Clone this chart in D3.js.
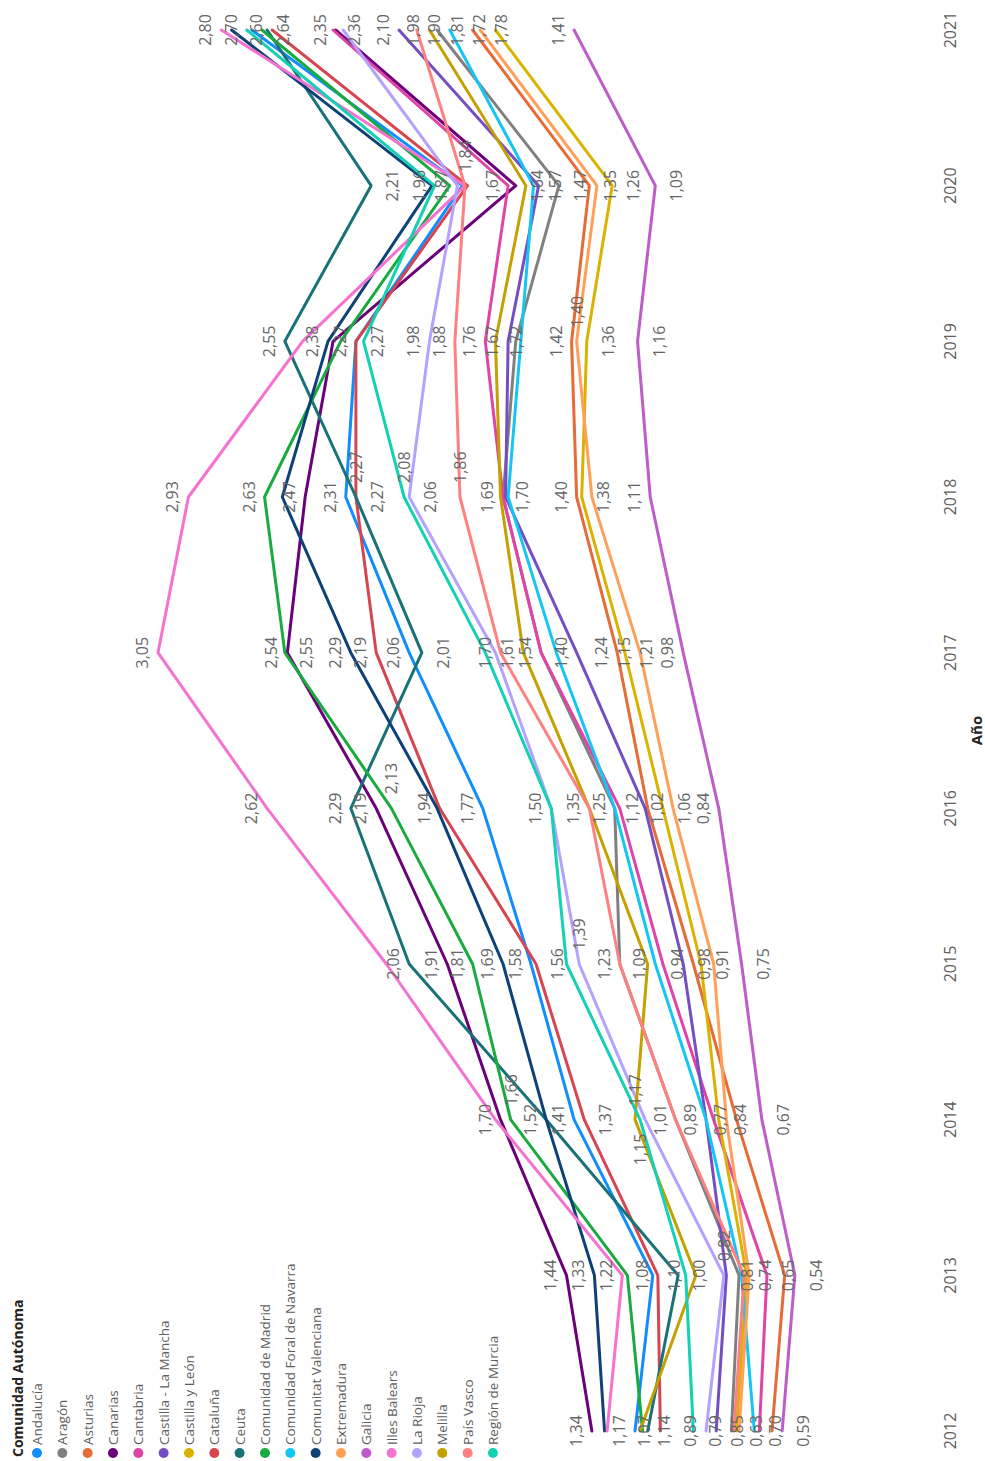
<!DOCTYPE html>
<html>
<head>
<meta charset="utf-8">
<script src="https://cdn.jsdelivr.net/npm/d3@7"></script>
<style>
  html, body { margin: 0; padding: 0; background: #ffffff; }
  svg { display: block; font-family: "Segoe UI", "Open Sans", "Noto Sans", sans-serif; }
</style>
</head>
<body>
<svg id="chart" width="985" height="1461"></svg>
<script>
// ---- data -------------------------------------------------------------
const years = [2012, 2013, 2014, 2015, 2016, 2017, 2018, 2019, 2020, 2021];

const regions = [
  "Andalucía", "Aragón", "Asturias", "Canarias", "Cantabria",
  "Castilla - La Mancha", "Castilla y León", "Cataluña", "Ceuta",
  "Comunidad de Madrid", "Comunidad Foral de Navarra", "Comunitat Valenciana",
  "Extremadura", "Galicia", "Illes Balears", "La Rioja", "Melilla",
  "País Vasco", "Región de Murcia"
];

const regionColors = [
  "#118DFF", "#808080", "#E66C37", "#6B007B", "#E044A7",
  "#744EC2", "#D9B300", "#D64550", "#197278",
  "#1AAB40", "#15C6F4", "#0E4178",
  "#FFA058", "#BE5DC9", "#F472D0", "#B5A1FF", "#C4A000",
  "#FF8080", "#14D0B4"
];

// one value per year, 2012 … 2021
const andalucia    = [1.17, 1.10, 1.41, 1.58, 1.77, 2.06, 2.31, 2.27, 1.85, 2.68];
const aragon       = [0.79, 0.76, 1.01, 1.23, 1.25, 1.54, 1.69, 1.64, 1.47, 1.95];
const asturias     = [0.63, 0.58, 0.77, 0.94, 1.12, 1.24, 1.40, 1.42, 1.35, 1.81];
const canarias     = [1.34, 1.44, 1.70, 1.91, 2.19, 2.54, 2.47, 2.36, 1.64, 2.35];
const cantabria    = [0.68, 0.65, 0.86, 1.06, 1.23, 1.54, 1.69, 1.76, 1.67, 2.36];
const castillaLM   = [0.85, 0.81, 0.89, 0.98, 1.13, 1.40, 1.68, 1.67, 1.55, 2.10];
const castillaLeon = [0.77, 0.73, 0.84, 0.91, 1.06, 1.21, 1.38, 1.36, 1.26, 1.72];
const cataluna     = [1.07, 1.08, 1.37, 1.56, 1.94, 2.19, 2.27, 2.27, 1.83, 2.60];
const ceuta        = [1.12, 1.00, 1.52, 2.06, 2.29, 2.01, 2.27, 2.55, 2.21, 2.62];
const madrid       = [1.14, 1.20, 1.66, 1.81, 2.13, 2.55, 2.63, 2.33, 1.90, 2.64];
const navarra      = [0.70, 0.75, 0.89, 1.09, 1.25, 1.48, 1.67, 1.62, 1.57, 1.90];
const valenciana   = [1.29, 1.33, 1.52, 1.69, 1.95, 2.29, 2.56, 2.38, 1.97, 2.76];
const extremadura  = [0.76, 0.72, 0.81, 0.86, 1.02, 1.15, 1.34, 1.40, 1.32, 1.78];
const galicia      = [0.59, 0.54, 0.67, 0.75, 0.84, 0.98, 1.11, 1.16, 1.09, 1.41];
const illesBalears = [1.28, 1.22, 1.72, 2.15, 2.62, 3.05, 2.93, 2.48, 1.84, 2.80];
const laRioja      = [0.89, 0.82, 1.13, 1.39, 1.50, 1.72, 2.06, 1.98, 1.87, 2.32];
const melilla      = [1.15, 0.93, 1.17, 1.12, 1.35, 1.61, 1.70, 1.72, 1.60, 1.98];
const paisVasco    = [0.78, 0.74, 1.01, 1.23, 1.35, 1.70, 1.86, 1.88, 1.84, 2.03];
const murcia       = [0.94, 0.97, 1.15, 1.44, 1.50, 1.76, 2.08, 2.24, 1.96, 2.70];

const seriesValues = [
  andalucia, aragon, asturias, canarias, cantabria, castillaLM, castillaLeon,
  cataluna, ceuta, madrid, navarra, valenciana, extremadura, galicia,
  illesBalears, laRioja, melilla, paisVasco, murcia
];

// years whose data label is displayed, per region (1 = shown)
const labelledYears = [
  [1,1,1,1,1,1,1,1,0,0], // Andalucía
  [1,0,1,1,1,1,1,0,1,0], // Aragón
  [1,0,1,1,1,1,1,1,1,1], // Asturias
  [1,1,1,1,1,1,1,0,1,1], // Canarias
  [0,1,0,0,0,0,0,1,1,1], // Cantabria
  [1,1,1,1,0,1,0,1,0,1], // Castilla - La Mancha
  [0,0,1,1,1,1,1,1,1,1], // Castilla y León
  [1,1,1,1,1,1,1,1,0,1], // Cataluña
  [0,1,1,1,1,1,1,1,1,0], // Ceuta
  [1,0,1,1,1,1,1,0,0,1], // Comunidad de Madrid
  [1,0,0,1,1,0,0,0,1,1], // Comunidad Foral de Navarra
  [0,1,0,1,0,1,0,1,0,0], // Comunitat Valenciana
  [0,0,0,1,1,1,0,1,0,1], // Extremadura
  [1,1,1,1,1,1,1,1,1,1], // Galicia
  [0,1,0,0,1,1,1,0,0,1], // Illes Balears
  [1,1,0,1,0,0,1,1,1,0], // La Rioja
  [0,0,1,0,1,1,1,1,0,1], // Melilla
  [0,1,0,0,0,1,1,1,1,0], // País Vasco
  [0,0,1,0,1,0,1,0,1,1]  // Región de Murcia
];

const legendTitle = "Comunidad Autónoma";
const axisTitle = "Año";

// ---- layout -----------------------------------------------------------
// The chart is laid out in a 1461 x 985 frame and turned a quarter turn
// counter-clockwise onto the 985 x 1461 page.
const W = 1461, H = 985;
const svg = d3.select("#chart");
const g = svg.append("g").attr("transform", `translate(0,${W}) rotate(-90)`);

const x = d3.scalePoint().domain(years).range([30, 1431]);
const y = d3.scaleLinear().domain([0.5, 3.1]).range([805, 145.3]);

const series = regions.map((name, i) => ({
  name, color: regionColors[i],
  points: years.map((yr, j) => ({
    year: yr, value: seriesValues[i][j], shown: labelledYears[i][j] === 1,
    prev: j > 0 ? seriesValues[i][j - 1] : null,
    next: j < years.length - 1 ? seriesValues[i][j + 1] : null
  }))
}));

// ---- lines ------------------------------------------------------------
const line = d3.line().x(d => x(d.year)).y(d => y(d.value));
g.append("g").attr("class", "lines")
  .selectAll("path").data(series).join("path")
  .attr("d", d => line(d.points))
  .attr("fill", "none")
  .attr("stroke", d => d.color)
  .attr("stroke-width", 3)
  .attr("stroke-linejoin", "round")
  .attr("stroke-linecap", "round");

// ---- data labels ------------------------------------------------------
// Greedy placement in legend order: a dip prefers the label below the
// point, everything else above; then the other side, then right, left.
const fmt = v => d3.format(".2f")(v).replace(".", ",");
const labelLayer = g.append("g").attr("class", "labels");
const placed = [];
const LH = 17;
function hits(b) {
  return placed.some(p => b.x0 < p.x1 - 0.01 && b.x1 > p.x0 + 0.01 && b.y0 < p.y1 - 0.01 && b.y1 > p.y0 + 0.01);
}
series.forEach(s => {
  s.points.forEach(p => {
    if (!p.shown) return;
    const t = labelLayer.append("text")
      .attr("font-size", 16)
      .attr("fill", "#666666")
      .attr("text-anchor", "middle")
      .attr("dominant-baseline", "central")
      .text(fmt(p.value));
    const w = t.node().getComputedTextLength();
    const px = x(p.year), py = y(p.value);
    const above = { cx: px, cy: py - 16 };
    const below = { cx: px, cy: py + 21 };
    const right = { cx: px + 14 + w / 2, cy: py };
    const left  = { cx: px - 14 - w / 2, cy: py };
    const dip = p.prev !== null && p.next !== null && p.value < p.prev && p.value < p.next;
    const options = dip ? [below, above, right, left] : [above, below, right, left];
    let chosen = null;
    for (const o of options) {
      const b = { x0: o.cx - w / 2, x1: o.cx + w / 2, y0: o.cy - LH / 2, y1: o.cy + LH / 2 };
      if (!hits(b)) { chosen = o; placed.push(b); break; }
    }
    if (!chosen) { t.remove(); return; }
    t.attr("x", chosen.cx).attr("y", chosen.cy);
  });
});

// ---- year axis --------------------------------------------------------
const axis = g.append("g").attr("class", "x-axis");
axis.selectAll("text").data(years).join("text")
  .attr("x", d => x(d))
  .attr("y", 950)
  .attr("text-anchor", "middle")
  .attr("dominant-baseline", "central")
  .attr("font-size", 16)
  .attr("fill", "#605E5C")
  .text(d => d);
axis.append("text")
  .attr("x", (x(years[0]) + x(years[years.length - 1])) / 2)
  .attr("y", 976)
  .attr("text-anchor", "middle")
  .attr("dominant-baseline", "central")
  .attr("font-size", 15)
  .attr("font-weight", "bold")
  .attr("fill", "#252423")
  .text(axisTitle);

// ---- legend -----------------------------------------------------------
const legend = g.append("g").attr("class", "legend");
legend.append("text")
  .attr("x", 4).attr("y", 17)
  .attr("dominant-baseline", "central")
  .attr("font-size", 14)
  .attr("font-weight", "bold")
  .attr("fill", "#252423")
  .text(legendTitle);
const items = legend.selectAll("g.item").data(series).join("g")
  .attr("class", "item")
  .attr("transform", (d, i) => `translate(0,${37 + i * 25.33})`);
items.append("circle").attr("cx", 8).attr("cy", 0).attr("r", 5).attr("fill", d => d.color);
items.append("text")
  .attr("x", 16).attr("y", 0)
  .attr("dominant-baseline", "central")
  .attr("font-size", 13.5)
  .attr("fill", "#605E5C")
  .text(d => d.name);
</script>
</body>
</html>
